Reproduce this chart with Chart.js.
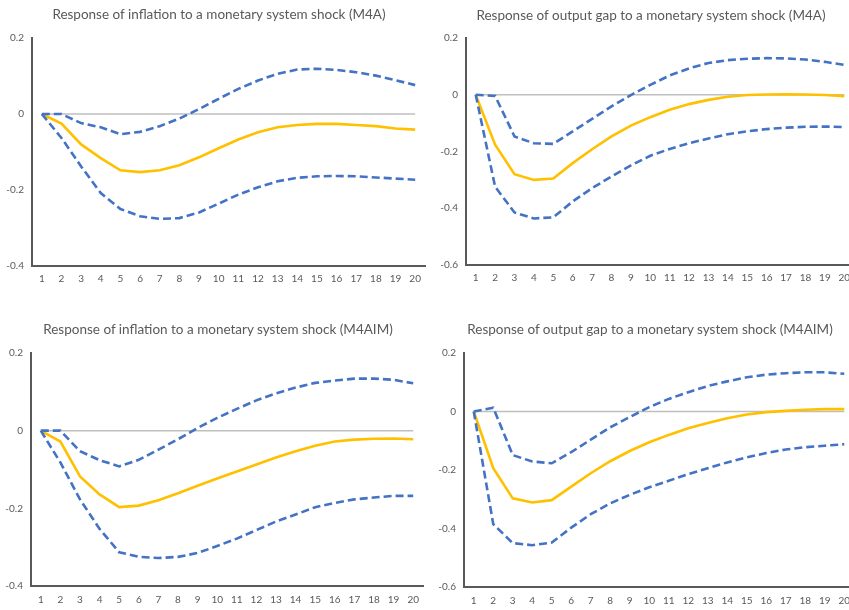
<!DOCTYPE html>
<html>
<head>
<meta charset="utf-8">
<script src="https://cdn.jsdelivr.net/npm/chart.js@4"></script>
<style>
  html, body { margin: 0; padding: 0; background: #fff; overflow: hidden; width: 849px; height: 610px; }
  .panel { position: absolute; }
  .title { position: absolute; width: 500px; text-align: center; font: 13.5px Lato, sans-serif; line-height: 16px; color: #595959; white-space: nowrap; }
</style>
</head>
<body>
<div class="panel" style="left:0;top:0;width:430px;height:300px"><canvas id="c1"></canvas></div>
<div class="panel" style="left:425px;top:0;width:434px;height:300px"><canvas id="c2"></canvas></div>
<div class="panel" style="left:0;top:305px;width:430px;height:305px"><canvas id="c3"></canvas></div>
<div class="panel" style="left:425px;top:305px;width:434px;height:305px"><canvas id="c4"></canvas></div>
<div class="title" style="left:-31px;top:6px">Response of inflation to a monetary system shock (M4A)</div>
<div class="title" style="left:401px;top:7px">Response of output gap to a monetary system shock (M4A)</div>
<div class="title" style="left:-32px;top:321px">Response of inflation to a monetary system shock (M4AIM)</div>
<div class="title" style="left:400px;top:321px">Response of output gap to a monetary system shock (M4AIM)</div>
<script>
// periods after the shock
const periods = ['1','2','3','4','5','6','7','8','9','10','11','12','13','14','15','16','17','18','19','20'];

// inflation, M4A
const inflM4A      = [0, -0.025, -0.080, -0.116, -0.148, -0.153, -0.148, -0.135, -0.114, -0.090, -0.067, -0.048, -0.035, -0.029, -0.026, -0.026, -0.029, -0.032, -0.038, -0.041];
const inflM4AUpper = [0, 0.000, -0.024, -0.035, -0.053, -0.047, -0.032, -0.012, 0.013, 0.040, 0.066, 0.088, 0.106, 0.117, 0.119, 0.116, 0.110, 0.101, 0.089, 0.076];
const inflM4ALower = [0, -0.063, -0.138, -0.208, -0.250, -0.269, -0.276, -0.274, -0.259, -0.236, -0.212, -0.193, -0.177, -0.168, -0.164, -0.163, -0.164, -0.167, -0.170, -0.173];

// output gap, M4A
const gapM4A      = [0, -0.176, -0.280, -0.300, -0.295, -0.241, -0.192, -0.147, -0.109, -0.079, -0.053, -0.033, -0.018, -0.007, -0.001, 0.001, 0.002, 0.001, -0.001, -0.005];
const gapM4AUpper = [0, -0.004, -0.147, -0.171, -0.173, -0.129, -0.085, -0.041, -0.001, 0.035, 0.068, 0.093, 0.112, 0.122, 0.127, 0.129, 0.128, 0.124, 0.116, 0.105];
const gapM4ALower = [0, -0.324, -0.415, -0.436, -0.432, -0.376, -0.329, -0.288, -0.249, -0.215, -0.191, -0.171, -0.154, -0.139, -0.129, -0.121, -0.116, -0.113, -0.112, -0.114];

// inflation, M4AIM
const inflM4AIM      = [0, -0.028, -0.118, -0.164, -0.197, -0.193, -0.179, -0.161, -0.142, -0.123, -0.105, -0.087, -0.069, -0.053, -0.039, -0.028, -0.023, -0.021, -0.020, -0.022];
const inflM4AIMUpper = [0, 0.000, -0.053, -0.076, -0.092, -0.075, -0.049, -0.022, 0.007, 0.033, 0.056, 0.078, 0.096, 0.111, 0.123, 0.129, 0.134, 0.134, 0.131, 0.122];
const inflM4AIMLower = [0, -0.082, -0.177, -0.253, -0.313, -0.325, -0.328, -0.325, -0.315, -0.297, -0.278, -0.256, -0.234, -0.216, -0.197, -0.186, -0.177, -0.172, -0.168, -0.168];

// output gap, M4AIM
const gapM4AIM      = [0, -0.194, -0.297, -0.311, -0.303, -0.257, -0.211, -0.170, -0.135, -0.105, -0.080, -0.057, -0.039, -0.023, -0.010, -0.002, 0.002, 0.006, 0.008, 0.008];
const gapM4AIMUpper = [0, 0.013, -0.149, -0.171, -0.177, -0.139, -0.096, -0.054, -0.019, 0.015, 0.043, 0.066, 0.087, 0.103, 0.117, 0.126, 0.131, 0.134, 0.134, 0.129];
const gapM4AIMLower = [0, -0.385, -0.450, -0.457, -0.448, -0.397, -0.351, -0.314, -0.285, -0.259, -0.237, -0.214, -0.194, -0.174, -0.157, -0.142, -0.130, -0.122, -0.117, -0.112];

const TEXT = '#595959';
const AXIS = '#595959';

// light grey zero line, running from first to last period
const zeroLine = {
    id: 'zeroLine',
    beforeDatasetsDraw(chart) {
        const x = chart.scales.x, y = chart.scales.y;
        const ctx = chart.ctx;
        const yy = y.getPixelForValue(0);
        ctx.save();
        ctx.strokeStyle = '#bfbfbf';
        ctx.lineWidth = 1.5;
        ctx.beginPath();
        ctx.moveTo(x.getPixelForValue(0), yy);
        ctx.lineTo(x.getPixelForValue(periods.length - 1), yy);
        ctx.stroke();
        ctx.restore();
    }
};

function makePanel(id, mid, upper, lower, yMin, g) {
    const bound = (label, data) => ({
        label: label, data: data,
        borderColor: '#4472C4', borderWidth: 2.6, borderDash: [8, 4],
        pointRadius: 0, tension: 0, fill: false
    });
    return new Chart(document.getElementById(id), {
        type: 'line',
        data: {
            labels: periods,
            datasets: [
                bound('Upper', upper),
                bound('Lower', lower),
                { label: 'Response', data: mid, borderColor: '#FFC000', borderWidth: 2.6,
                  pointRadius: 0, tension: 0, fill: false }
            ]
        },
        options: {
            responsive: true,
            maintainAspectRatio: false,
            animation: false,
            layout: { padding: { left: 0, right: g.padRight, top: g.top, bottom: 0 } },
            plugins: {
                legend: { display: false },
                tooltip: { enabled: false }
            },
            scales: {
                x: {
                    offset: true,
                    grid: { display: false, drawTicks: false },
                    border: { display: true, color: AXIS, width: 2 },
                    ticks: { color: TEXT, font: { family: 'Lato', size: 10 }, padding: g.xPad, maxRotation: 0, autoSkip: false },
                    afterFit: s => { s.height = g.xHeight; }
                },
                y: {
                    min: yMin, max: 0.2,
                    grid: { display: false, drawTicks: false },
                    border: { display: true, color: AXIS, width: 2 },
                    ticks: {
                        stepSize: 0.2, color: TEXT, padding: 8,
                        font: { family: 'Lato', size: 10 },
                        callback: v => String(Math.round(v * 10) / 10)
                    },
                    afterFit: s => { s.width = g.yWidth; }
                }
            }
        },
        plugins: [zeroLine]
    });
}

makePanel('c1', inflM4A, inflM4AUpper, inflM4ALower, -0.4,
    { padRight: 5, yWidth: 32, top: 38, xHeight: 34, xPad: 7 });

makePanel('c2', gapM4A, gapM4AUpper, gapM4ALower, -0.6,
    { padRight: 5, yWidth: 41, top: 38, xHeight: 35, xPad: 7 });

makePanel('c3', inflM4AIM, inflM4AIMUpper, inflM4AIMLower, -0.4,
    { padRight: 7, yWidth: 31, top: 48, xHeight: 24, xPad: 8 });

makePanel('c4', gapM4AIM, gapM4AIMUpper, gapM4AIMLower, -0.6,
    { padRight: 5, yWidth: 39, top: 48, xHeight: 23, xPad: 8 });
</script>
</body>
</html>
